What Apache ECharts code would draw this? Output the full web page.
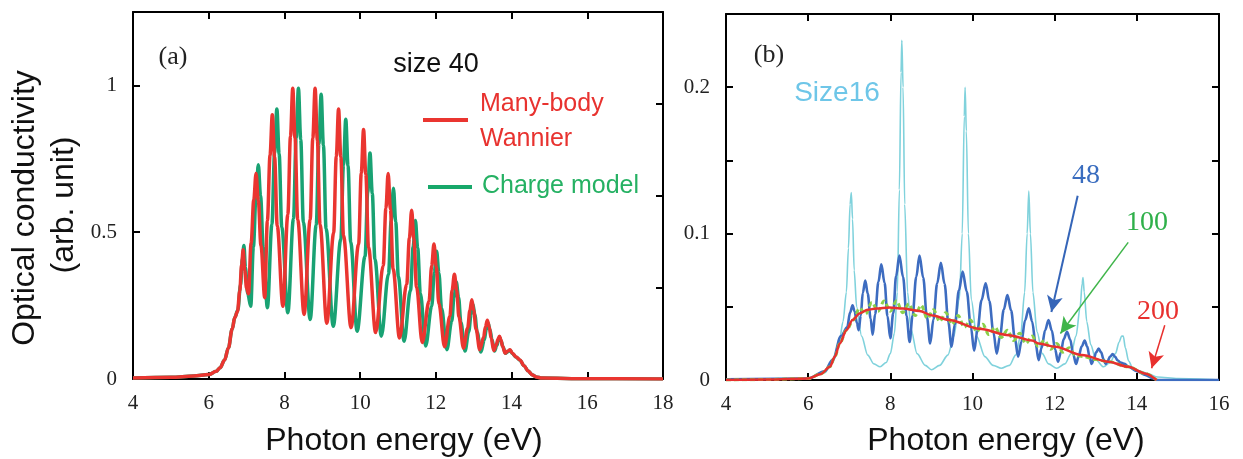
<!DOCTYPE html>
<html>
<head>
<meta charset="utf-8">
<script src="https://cdn.jsdelivr.net/npm/echarts@6/dist/echarts.min.js"></script>
<style>
html,body{margin:0;padding:0;background:#fff;}
#chart{width:1243px;height:459px;}
</style>
</head>
<body>
<div id="chart"></div>
<script>
// ---------- data ----------
// Panel (a): size 40, photon energy (eV) vs optical conductivity (arb. unit)
var wannier40 = [
[4,0.003],[5,0.006],[5.6,0.01],[6,0.015],[6.2,0.026],[6.3,0.038],[6.42,0.065],[6.52,0.106],[6.62,0.17],[6.69,0.21],[6.76,0.23],[6.82,0.30],[6.87,0.39],[6.91,0.44],[6.95,0.37],[7.0,0.31],[7.05,0.29],
[7.12,0.462],[7.19,0.61],[7.25,0.70],[7.31,0.607],[7.38,0.455],[7.48,0.277],
[7.55,0.539],[7.62,0.763],[7.68,0.90],[7.74,0.757],[7.81,0.522],[7.96,0.248],
[8.09,0.56],[8.16,0.827],[8.22,0.99],[8.28,0.821],[8.35,0.543],[8.52,0.22],
[8.68,0.543],[8.75,0.821],[8.81,0.99],[8.87,0.814],[8.94,0.526],[9.12,0.19],
[9.30,0.497],[9.37,0.759],[9.43,0.92],[9.49,0.756],[9.56,0.488],[9.76,0.175],
[9.96,0.459],[10.03,0.702],[10.09,0.85],[10.15,0.698],[10.22,0.449],[10.41,0.158],
[10.61,0.386],[10.68,0.581],[10.74,0.70],[10.80,0.577],[10.87,0.375],[11.04,0.14],
[11.23,0.323],[11.30,0.479],[11.36,0.575],[11.42,0.476],[11.49,0.313],[11.64,0.124],
[11.82,0.265],[11.89,0.386],[11.95,0.46],[12.01,0.383],[12.08,0.257],[12.23,0.11],
[12.37,0.214],[12.43,0.303],[12.49,0.357],[12.55,0.302],[12.61,0.211],[12.73,0.105],
[12.84,0.174],[12.90,0.234],[12.95,0.27],[13.00,0.233],[13.06,0.171],[13.16,0.10],
[13.26,0.142],[13.31,0.178],[13.36,0.20],[13.41,0.177],[13.46,0.14],[13.53,0.097],
[13.60,0.118],[13.64,0.135],[13.68,0.146],[13.72,0.133],[13.76,0.112],[13.83,0.088],
[13.90,0.095],[13.96,0.10],[14.02,0.088],[14.12,0.075],[14.22,0.065],[14.33,0.045],[14.44,0.027],[14.55,0.014],[14.65,0.007],[14.8,0.003],[16,0.001],[18,0]
];
var charge40 = [
[4,0.003],[5,0.006],[5.6,0.01],[6,0.015],[6.2,0.026],[6.3,0.038],[6.42,0.065],[6.52,0.106],[6.62,0.17],[6.69,0.21],[6.77,0.235],[6.84,0.32],[6.89,0.41],[6.93,0.455],[6.97,0.38],[7.03,0.29],[7.11,0.248],
[7.18,0.45],[7.25,0.624],[7.31,0.73],[7.37,0.623],[7.44,0.448],[7.55,0.243],
[7.67,0.527],[7.74,0.771],[7.80,0.92],[7.86,0.767],[7.93,0.517],[8.09,0.226],
[8.24,0.547],[8.31,0.822],[8.37,0.99],[8.43,0.817],[8.50,0.534],[8.68,0.203],
[8.84,0.525],[8.91,0.801],[8.97,0.97],[9.03,0.796],[9.10,0.512],[9.29,0.18],
[9.49,0.476],[9.56,0.73],[9.62,0.885],[9.68,0.726],[9.75,0.466],[9.92,0.163],
[10.13,0.418],[10.20,0.636],[10.26,0.77],[10.32,0.633],[10.39,0.408],[10.56,0.146],
[10.75,0.358],[10.82,0.539],[10.88,0.65],[10.94,0.535],[11.01,0.348],[11.16,0.129],
[11.33,0.302],[11.40,0.45],[11.46,0.54],[11.52,0.446],[11.59,0.292],[11.73,0.112],
[11.89,0.248],[11.96,0.364],[12.02,0.435],[12.08,0.361],[12.15,0.241],[12.29,0.10],
[12.42,0.197],[12.48,0.279],[12.54,0.33],[12.60,0.278],[12.66,0.194],[12.77,0.095],
[12.87,0.162],[12.93,0.22],[12.98,0.255],[13.03,0.219],[13.09,0.16],[13.19,0.092],
[13.28,0.133],[13.33,0.168],[13.38,0.19],[13.43,0.169],[13.48,0.135],[13.55,0.095],
[13.61,0.114],[13.65,0.13],[13.69,0.14],[13.73,0.128],[13.77,0.11],[13.84,0.088],
[13.90,0.093],[13.96,0.098],[14.02,0.087],[14.12,0.074],[14.22,0.064],[14.33,0.045],[14.44,0.027],[14.55,0.014],[14.65,0.007],[14.8,0.003],[16,0.001],[18,0]
];
// Panel (b): sizes 16, 48, 100, 200
var size16 = [
[4,0.0005],[6,0.001],[6.4,0.005],[6.6,0.012],[6.75,0.025],[6.85,0.04],[6.93,0.06],[6.98,0.09],[7.02,0.12],[7.05,0.128],[7.08,0.11],[7.12,0.075],[7.18,0.05],[7.3,0.03],[7.45,0.017],[7.6,0.011],[7.75,0.009],[7.9,0.012],[8.0,0.018],[8.1,0.032],[8.17,0.06],[8.22,0.13],[8.26,0.21],[8.28,0.232],[8.31,0.2],[8.35,0.12],[8.42,0.06],[8.5,0.035],[8.65,0.018],[8.85,0.01],[9.0,0.007],[9.2,0.01],[9.4,0.017],[9.55,0.03],[9.68,0.055],[9.75,0.1],[9.80,0.18],[9.82,0.20],[9.85,0.17],[9.9,0.1],[9.97,0.055],[10.1,0.03],[10.3,0.016],[10.5,0.01],[10.7,0.008],[10.9,0.01],[11.05,0.017],[11.17,0.03],[11.27,0.06],[11.33,0.1],[11.37,0.129],[11.41,0.1],[11.47,0.06],[11.57,0.033],[11.7,0.018],[11.85,0.011],[12.05,0.008],[12.25,0.011],[12.4,0.018],[12.52,0.03],[12.62,0.05],[12.67,0.066],[12.69,0.07],[12.72,0.06],[12.78,0.04],[12.88,0.024],[13.0,0.014],[13.19,0.009],[13.35,0.012],[13.48,0.018],[13.57,0.026],[13.63,0.03],[13.67,0.03],[13.72,0.022],[13.8,0.013],[13.9,0.008],[14.1,0.006],[14.3,0.004],[14.5,0.002],[15,0.001],[16,0]
];
var size48 = [
[4,0.0005],[6,0.001],[6.4,0.006],[6.6,0.014],[6.8,0.03],[6.95,0.036],[7.02,0.046],[7.08,0.051],[7.13,0.047],[7.185,0.039],[7.23,0.034],
[7.28,0.044],[7.33,0.0595],[7.39,0.068],[7.45,0.059],[7.52,0.042],[7.57,0.031],
[7.63,0.045],[7.71,0.067],[7.78,0.079],[7.86,0.0664],[7.93,0.0437],[8.0,0.0286],
[8.07,0.0455],[8.14,0.071],[8.22,0.085],[8.31,0.0703],[8.395,0.0437],[8.47,0.026],
[8.54,0.0437],[8.63,0.0703],[8.71,0.085],[8.80,0.07],[8.89,0.043],[8.97,0.025],
[9.05,0.0415],[9.14,0.066],[9.23,0.080],[9.32,0.0657],[9.41,0.0399],[9.49,0.0227],
[9.57,0.038],[9.67,0.0612],[9.76,0.074],[9.86,0.0605],[9.96,0.0362],[10.04,0.020],
[10.12,0.0338],[10.22,0.0545],[10.32,0.066],[10.41,0.054],[10.51,0.0324],[10.59,0.018],
[10.67,0.03],[10.76,0.048],[10.85,0.058],[10.94,0.0475],[11.03,0.0286],[11.11,0.016],
[11.19,0.0259],[11.28,0.0408],[11.37,0.049],[11.45,0.04],[11.54,0.0242],[11.61,0.0136],
[11.68,0.0218],[11.77,0.0342],[11.85,0.041],[11.93,0.0339],[12.01,0.021],[12.08,0.0125],
[12.15,0.0187],[12.22,0.0279],[12.30,0.033],[12.38,0.0275],[12.45,0.0176],[12.52,0.011],
[12.58,0.0158],[12.66,0.023],[12.73,0.027],[12.79,0.023],[12.85,0.0158],[12.9,0.011],
[12.95,0.0142],[13.01,0.0189],[13.07,0.0215],[13.13,0.0189],[13.19,0.0142],[13.24,0.011],
[13.29,0.013],[13.35,0.016],[13.41,0.0177],[13.47,0.016],[13.53,0.0135],[13.6,0.012],[13.7,0.011],[13.8,0.009],[14.0,0.006],[14.2,0.0035],[14.4,0.001],[14.5,0],[16,0]
];
var size100 = [
[4,0],[5,0.0003],[6,0.001],[6.3,0.004],[6.53,0.009],[6.65,0.016],[6.77,0.025],[6.93,0.034],[7.1,0.041],[7.25,0.049],[7.4,0.045],[7.55,0.053],[7.7,0.047],[7.85,0.054],[8.0,0.047],[8.15,0.054],[8.3,0.046],[8.45,0.052],[8.6,0.044],[8.75,0.051],[8.9,0.042],[9.05,0.048],[9.2,0.04],[9.35,0.046],[9.5,0.038],[9.65,0.044],[9.8,0.036],[9.95,0.041],[10.1,0.033],[10.25,0.038],[10.4,0.031],[10.55,0.036],[10.7,0.029],[10.85,0.034],[11.0,0.027],[11.15,0.032],[11.3,0.025],[11.45,0.03],[11.6,0.023],[11.75,0.027],[11.9,0.021],[12.05,0.025],[12.2,0.019],[12.35,0.022],[12.5,0.017],[12.7,0.016],[13.0,0.014],[13.31,0.0125],[13.79,0.009],[14.2,0.0045],[14.48,0]
];
var size200 = [
[4,0],[5,0.0003],[6,0.001],[6.3,0.004],[6.53,0.009],[6.65,0.016],[6.77,0.025],[6.93,0.034],[7.08,0.041],[7.25,0.0455],[7.45,0.048],[7.66,0.0488],[7.98,0.0495],[8.3,0.0488],[8.71,0.0472],[9.03,0.044],[9.43,0.041],[10.16,0.035],[10.89,0.0306],[11.45,0.027],[11.61,0.025],[12.02,0.0227],[12.66,0.017],[13.31,0.0125],[13.79,0.009],[14.2,0.0045],[14.48,0]
];

// ---------- styling ----------
var SANS = '"Liberation Sans", Arial, sans-serif';
var SERIF = '"Liberation Serif", "Times New Roman", serif';
var frame = {show:true, onZero:false, lineStyle:{color:'#000', width:2}};
function tick(len){ return {show:true, inside:true, length:len, lineStyle:{color:'#000', width:2}}; }
var tickLabel = {fontFamily:SERIF, fontSize:21, color:'#222'};

var chart = echarts.init(document.getElementById('chart'), null, {renderer:'canvas'});
var option = {
  backgroundColor:'#fff',
  animation:false,
  grid:[
    {left:133, top:12, width:530, height:367},
    {left:726, top:14, width:493, height:366}
  ],
  xAxis:[
    {gridIndex:0, type:'value', min:4, max:18, interval:2, position:'bottom', axisLine:frame, axisTick:tick(7), splitLine:{show:false},
     axisLabel:Object.assign({margin:14}, tickLabel)},
    {gridIndex:0, type:'value', min:4, max:18, interval:2, position:'top', axisLine:frame, axisTick:tick(7), splitLine:{show:false}, axisLabel:{show:false}},
    {gridIndex:1, type:'value', min:4, max:16, interval:2, position:'bottom', axisLine:frame, axisTick:tick(7), splitLine:{show:false},
     axisLabel:Object.assign({margin:14}, tickLabel)},
    {gridIndex:1, type:'value', min:4, max:16, interval:2, position:'top', axisLine:frame, axisTick:tick(7), splitLine:{show:false}, axisLabel:{show:false}}
  ],
  yAxis:[
    {gridIndex:0, type:'value', min:0, max:1.25, interval:0.5, position:'left', axisLine:frame, axisTick:tick(7), splitLine:{show:false},
     axisLabel:Object.assign({margin:16, showMaxLabel:false}, tickLabel)},
    {gridIndex:0, type:'value', min:0, max:1.25, interval:0.3125, position:'right', axisLine:frame, axisTick:tick(7), splitLine:{show:false}, axisLabel:{show:false}},
    {gridIndex:1, type:'value', min:0, max:0.25, interval:0.05, position:'left', axisLine:frame, axisTick:tick(7), splitLine:{show:false},
     axisLabel:Object.assign({margin:16, showMaxLabel:false, formatter:function(v){
        var t = Math.round(v*100);
        return (t % 10 === 0) ? String(t/100) : '';
     }}, tickLabel)},
    {gridIndex:1, type:'value', min:0, max:0.25, interval:0.05, position:'right', axisLine:frame, axisTick:tick(7), splitLine:{show:false}, axisLabel:{show:false}}
  ],
  series:[
    {name:'Charge model', type:'line', xAxisIndex:0, yAxisIndex:0, data:charge40, showSymbol:false, smooth:0.35, smoothMonotone:'x',
     lineStyle:{color:'#19a273', width:3.5}, z:2},
    {name:'Many-body Wannier', type:'line', xAxisIndex:0, yAxisIndex:0, data:wannier40, showSymbol:false, smooth:0.35, smoothMonotone:'x',
     lineStyle:{color:'#ea3530', width:3.5}, z:3},
    {name:'Size16', type:'line', xAxisIndex:2, yAxisIndex:2, data:size16, showSymbol:false, smooth:0.3, smoothMonotone:'x',
     lineStyle:{color:'#80d2dc', width:1.6}, z:2},
    {name:'48', type:'line', xAxisIndex:2, yAxisIndex:2, data:size48, showSymbol:false, smooth:0.35, smoothMonotone:'x',
     lineStyle:{color:'#3d6cc0', width:2.6}, z:3,
     markLine:{silent:true, symbol:['none','arrow'], symbolSize:[12,16], label:{show:false},
       lineStyle:{color:'#3565b8', width:2, type:'solid'},
       data:[[{coord:[12.56,0.1259]},{coord:[11.92,0.0465]}]]}},
    {name:'100', type:'line', xAxisIndex:2, yAxisIndex:2, data:size100, showSymbol:false, smooth:0.35, smoothMonotone:'x',
     lineStyle:{color:'#8ad04a', width:3, type:[5,3]}, z:4,
     markLine:{silent:true, symbol:['none','arrow'], symbolSize:[12,16], label:{show:false},
       lineStyle:{color:'#3fb54a', width:1.5, type:'solid'},
       data:[[{coord:[13.79,0.094]},{coord:[12.14,0.0318]}]]}},
    {name:'200', type:'line', xAxisIndex:2, yAxisIndex:2, data:size200, showSymbol:false, smooth:0.3, smoothMonotone:'x',
     lineStyle:{color:'#e8302e', width:2.5}, z:5,
     markLine:{silent:true, symbol:['none','arrow'], symbolSize:[12,16], label:{show:false},
       lineStyle:{color:'#e8302e', width:1.5, type:'solid'},
       data:[[{coord:[14.68,0.0374]},{coord:[14.36,0.008]}]]}}
  ],
  graphic:[
    // axis titles
    {type:'text', x:25, y:208, rotation:Math.PI/2, style:{text:'Optical conductivity', font:'32px '+SANS, fill:'#111', textAlign:'center', textVerticalAlign:'middle'}},
    {type:'text', x:64, y:205, rotation:Math.PI/2, style:{text:'(arb. unit)', font:'32px '+SANS, fill:'#111', textAlign:'center', textVerticalAlign:'middle'}},
    {type:'text', x:404, y:441, style:{text:'Photon energy (eV)', font:'32px '+SANS, fill:'#111', textAlign:'center', textVerticalAlign:'middle'}},
    {type:'text', x:1006, y:441, style:{text:'Photon energy (eV)', font:'32px '+SANS, fill:'#111', textAlign:'center', textVerticalAlign:'middle'}},
    // panel (a) annotations
    {type:'text', x:173, y:57, style:{text:'(a)', font:'26px '+SERIF, fill:'#222', textAlign:'center', textVerticalAlign:'middle'}},
    {type:'text', x:436, y:65, style:{text:'size 40', font:'27px '+SANS, fill:'#111', textAlign:'center', textVerticalAlign:'middle'}},
    {type:'line', shape:{x1:423, y1:120, x2:468, y2:120}, style:{stroke:'#ea3530', lineWidth:4}},
    {type:'text', x:480, y:104, style:{text:'Many-body', font:'25px '+SANS, fill:'#e8322f', textAlign:'left', textVerticalAlign:'middle'}},
    {type:'text', x:480, y:139, style:{text:'Wannier', font:'25px '+SANS, fill:'#e8322f', textAlign:'left', textVerticalAlign:'middle'}},
    {type:'line', shape:{x1:428, y1:187, x2:472, y2:187}, style:{stroke:'#18a86a', lineWidth:4}},
    {type:'text', x:482, y:186, style:{text:'Charge model', font:'25px '+SANS, fill:'#25b163', textAlign:'left', textVerticalAlign:'middle'}},
    // panel (b) annotations
    {type:'text', x:769, y:55, style:{text:'(b)', font:'26px '+SERIF, fill:'#222', textAlign:'center', textVerticalAlign:'middle'}},
    {type:'text', x:837, y:93, style:{text:'Size16', font:'28px '+SANS, fill:'#6ec6e8', textAlign:'center', textVerticalAlign:'middle'}},
    {type:'text', x:1086, y:176, style:{text:'48', font:'28px '+SERIF, fill:'#3a6dbf', textAlign:'center', textVerticalAlign:'middle'}},
    {type:'text', x:1147, y:223, style:{text:'100', font:'28px '+SERIF, fill:'#2fb04a', textAlign:'center', textVerticalAlign:'middle'}},
    {type:'text', x:1158, y:312, style:{text:'200', font:'28px '+SERIF, fill:'#e8302e', textAlign:'center', textVerticalAlign:'middle'}}
  ]
};
chart.setOption(option);
</script>
</body>
</html>
